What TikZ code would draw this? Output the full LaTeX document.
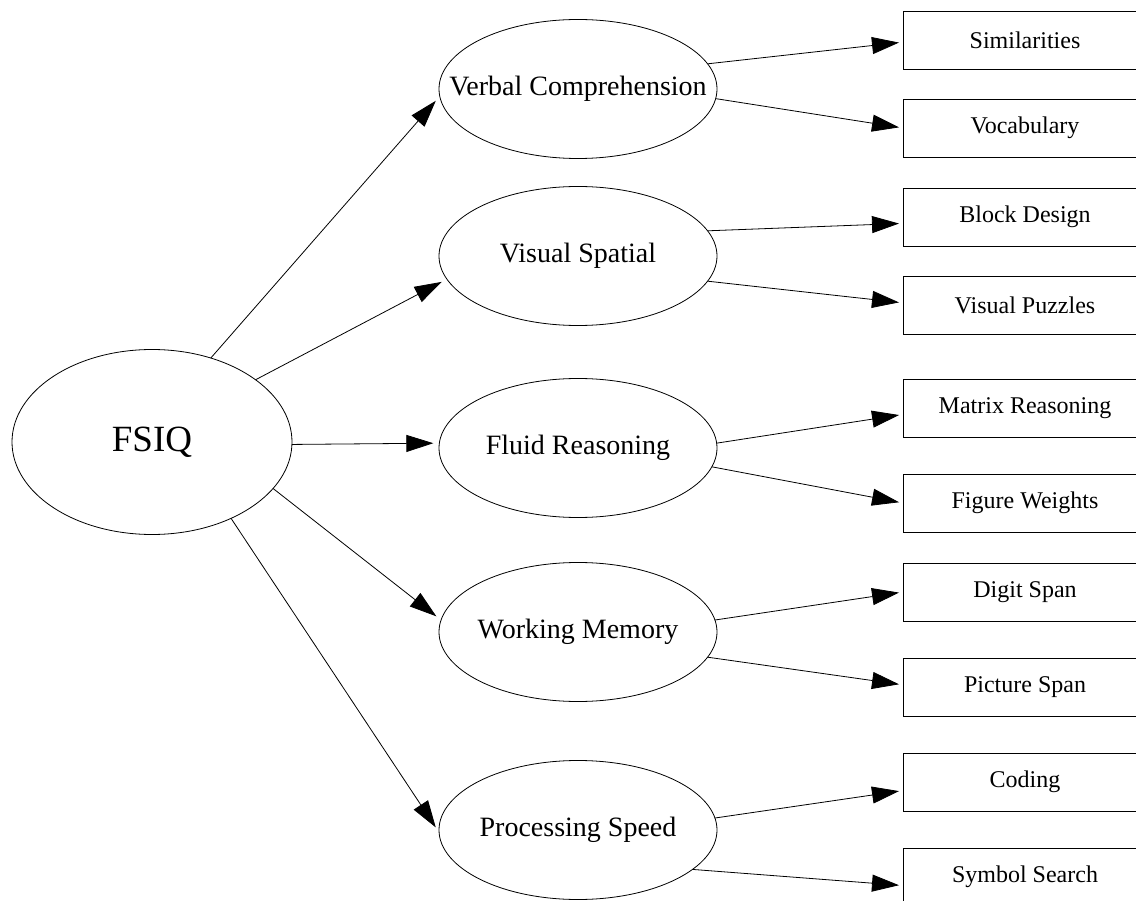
\documentclass[tikz,border=0pt]{standalone}
\usepackage{fontspec}
\setmainfont{Liberation Serif}
\usetikzlibrary{shapes.geometric,arrows.meta}

\begin{document}
\begin{tikzpicture}[x=1pt,y=-1pt,
  every node/.style={inner sep=0pt, outer sep=0pt},
  index/.style={draw, ellipse, line width=0.8pt, minimum width=278pt, minimum height=139pt},
  idxtext/.style={font=\fontsize{28}{32}\selectfont},
  subtest/.style={draw, rectangle, line width=0.8pt, minimum width=244pt, minimum height=58pt, font=\fontsize{24}{28}\selectfont},
  link/.style={line width=0.8pt, -{Triangle[length=27pt,width=17pt]}, shorten >=4pt}]
\useasboundingbox (0,0) rectangle (1136,901);

\node[draw, ellipse, line width=0.8pt, minimum width=280pt, minimum height=185pt, font=\fontsize{37}{42}\selectfont] (fsiq) at (152,442) {FSIQ};

\node[index, label={[idxtext]center:Verbal Comprehension}] (vc) at (578,89) {};
\node[index, label={[idxtext]center:Visual Spatial}] (vs) at (578,256) {};
\node[index, label={[idxtext]center:Fluid Reasoning}] (fr) at (578,448) {};
\node[index, label={[idxtext]center:Working Memory}] (wm) at (578,632) {};
\node[index, label={[idxtext]center:Processing Speed}] (ps) at (578,830) {};

\node[subtest] (sim) at (1025,40) {Similarities};
\node[subtest] (voc) at (1025,128) {Vocabulary};
\node[subtest] (bd) at (1025,217) {Block Design};
\node[subtest] (vp) at (1025,305) {Visual Puzzles};
\node[subtest] (mr) at (1025,408) {Matrix Reasoning};
\node[subtest] (fw) at (1025,503) {Figure Weights};
\node[subtest] (ds) at (1025,592) {Digit Span};
\node[subtest] (pspan) at (1025,687) {Picture Span};
\node[subtest] (cod) at (1025,782) {Coding};
\node[subtest] (ss) at (1025,877) {Symbol Search};

% FSIQ to the index scores
\draw[link, shorten >=6pt] (fsiq.55) -- (vc.183);
\draw[link, shorten >=6pt] (fsiq.31) -- (vs.190);
\draw[link, shorten >=6pt] (fsiq.-1) -- (fr.178);
\draw[link, shorten >=6pt] (fsiq.-21) -- (wm.175);
\draw[link, shorten >=6pt] (fsiq.-44) -- (ps.181);

% index scores to the subtests
\draw[link] (vc.11) -- (sim.181);
\draw[link] (vc.-4) -- (voc.180);
\draw[link] (vs.11) -- (bd.183);
\draw[link] (vs.-11) -- (vp.179);
\draw[link] (fr.2) -- (mr.183);
\draw[link] (fr.-8) -- (fw.180);
\draw[link] (wm.5) -- (ds.180);
\draw[link] (wm.-11) -- (pspan.179);
\draw[link] (ps.5) -- (cod.184);
\draw[link] (ps.-19) -- (ss.184);
\end{tikzpicture}
\end{document}
